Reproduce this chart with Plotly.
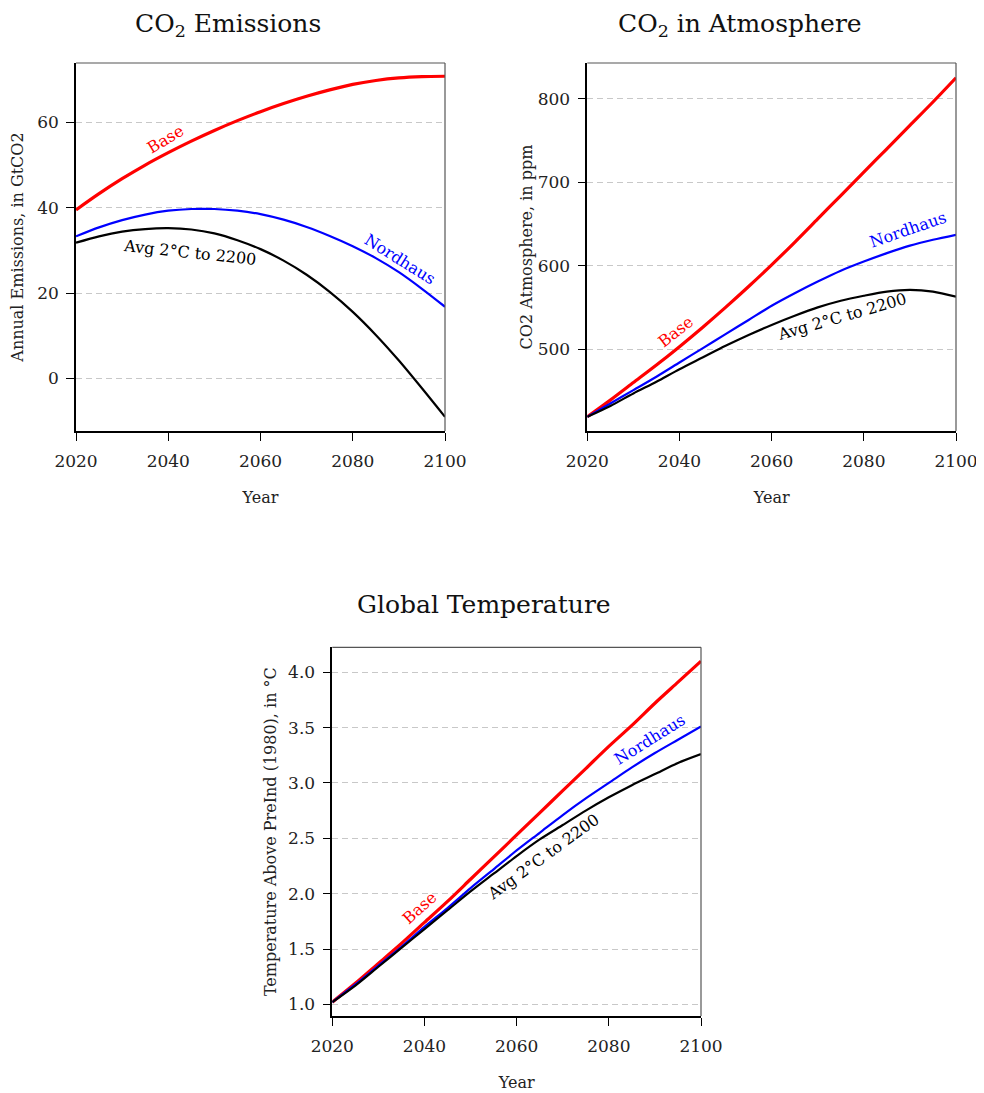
import plotly.graph_objects as go

years = [2020, 2025, 2030, 2035, 2040, 2045, 2050, 2055, 2060, 2065, 2070, 2075, 2080, 2085, 2090, 2095, 2100]

emis_base = [39.5, 43.3, 46.8, 50.0, 52.9, 55.6, 58.1, 60.4, 62.5, 64.4, 66.1, 67.6, 68.9, 69.8, 70.4, 70.7, 70.8]
emis_nord = [33.3, 35.4, 37.1, 38.4, 39.3, 39.7, 39.7, 39.3, 38.5, 37.2, 35.5, 33.4, 31.0, 28.2, 24.9, 21.0, 16.8]
emis_avg2 = [31.8, 33.3, 34.4, 35.0, 35.2, 34.9, 34.0, 32.4, 30.3, 27.6, 24.3, 20.3, 15.6, 10.2, 4.2, -2.3, -9.0]

atm_base = [419, 439, 460, 481, 503, 526, 550, 575, 601, 628, 656, 684, 712, 740, 768, 796, 825]
atm_nord = [419, 435, 451, 467, 484, 501, 518, 535, 552, 567, 581, 594, 605, 615, 624, 631, 637]
atm_avg2 = [419, 432, 447, 461, 476, 490, 504, 517, 529, 540, 550, 558, 564, 569, 571, 569, 563]

temp_base = [1.02, 1.19, 1.37, 1.55, 1.74, 1.93, 2.13, 2.33, 2.53, 2.73, 2.93, 3.13, 3.33, 3.52, 3.72, 3.91, 4.10]
temp_nord = [1.02, 1.18, 1.35, 1.52, 1.70, 1.87, 2.05, 2.22, 2.39, 2.55, 2.71, 2.86, 3.00, 3.14, 3.27, 3.39, 3.51]
temp_avg2 = [1.02, 1.17, 1.34, 1.51, 1.68, 1.85, 2.02, 2.18, 2.34, 2.49, 2.62, 2.75, 2.87, 2.98, 3.08, 3.18, 3.26]

series_names = ["Base", "Nordhaus", "Avg 2°C to 2200"]
colors = ["#ff0000", "#0000ff", "#000000"]
widths = [3.2, 2.2, 2.2]

x_ticks = [2020, 2040, 2060, 2080, 2100]
emis_ticks = [0, 20, 40, 60]
atm_ticks = [500, 600, 700, 800]
temp_ticks = [1.0, 1.5, 2.0, 2.5, 3.0, 3.5, 4.0]

FONT = "DejaVu Serif"
W, H = 984, 1093
OFF = 8  # page body margin


def px_x(p):
    return (p - OFF) / W


def px_y(p):
    return 1 - (p - OFF) / H


fig = go.Figure()

panels = [
    ("x", "y", [emis_base, emis_nord, emis_avg2]),
    ("x2", "y2", [atm_base, atm_nord, atm_avg2]),
    ("x3", "y3", [temp_base, temp_nord, temp_avg2]),
]
for xa, ya, data in panels:
    for name, vals, c, w in zip(series_names, data, colors, widths):
        fig.add_trace(go.Scatter(x=years, y=vals, mode="lines", name=name,
                                 line=dict(color=c, width=w, shape="spline", smoothing=0.8),
                                 xaxis=xa, yaxis=ya, showlegend=False, hoverinfo="skip"))


def xaxis(domain, anchor):
    return dict(domain=domain, anchor=anchor, range=[2020, 2100], tickvals=x_ticks,
                showline=True, linecolor="black", linewidth=1.5, ticks="outside", ticklen=8,
                tickcolor="black", tickwidth=1.2, showgrid=False, zeroline=False,
                ticklabelstandoff=6, automargin=False,
                tickfont=dict(family=FONT, size=17, color="#222"),
                title=dict(text="Year", font=dict(family=FONT, size=16, color="#222"), standoff=22))


def yaxis(domain, anchor, rng, ticks, title, fmt=None, standoff=10):
    d = dict(domain=domain, anchor=anchor, range=rng, tickvals=ticks,
             showline=True, linecolor="black", linewidth=1.5, ticks="outside", ticklen=8,
             tickcolor="black", tickwidth=1.2, showgrid=True, gridcolor="#c8c8c8",
             griddash="6px,4px", gridwidth=1, zeroline=False, ticklabelstandoff=4,
             automargin=False,
             tickfont=dict(family=FONT, size=17, color="#222"),
             title=dict(text=title, font=dict(family=FONT, size=16, color="#222"), standoff=standoff))
    if fmt:
        d["tickformat"] = fmt
    return d


yd_top = [px_y(431), px_y(63)]
yd_bot = [px_y(1016), px_y(647.3)]

fig.update_layout(
    width=W, height=H,
    margin=dict(l=0, r=0, t=0, b=0, autoexpand=False),
    paper_bgcolor="white", plot_bgcolor="white",
    xaxis=xaxis([px_x(76), px_x(445)], "y"),
    yaxis=yaxis(yd_top, "x", [-12.3, 73.9], emis_ticks, "Annual Emissions, in GtCO2", standoff=12),
    xaxis2=xaxis([px_x(587.3), px_x(956)], "y2"),
    yaxis2=yaxis(yd_top, "x2", [402.0, 842.7], atm_ticks, "CO2 Atmosphere, in ppm", standoff=1),
    xaxis3=xaxis([px_x(332.3), px_x(701)], "y3"),
    yaxis3=yaxis(yd_bot, "x3", [0.895, 4.225], temp_ticks, "Temperature Above PreInd (1980), in °C", fmt=".1f", standoff=7),
)

# top/right frame lines (grey)
for xa, ya in [("x", "y"), ("x2", "y2"), ("x3", "y3")]:
    fig.add_shape(type="line", xref=f"{xa} domain", yref=f"{ya} domain", x0=0, x1=1, y0=1, y1=1,
                  line=dict(color="#555555", width=1.2))
    fig.add_shape(type="line", xref=f"{xa} domain", yref=f"{ya} domain", x0=1, x1=1, y0=0, y1=1,
                  line=dict(color="#555555", width=1.2))

# titles
titles = [("CO<sub>2</sub> Emissions", 228, None),
          ("CO<sub>2</sub> in Atmosphere", 740, None),
          ("Global Temperature", 484, 605)]
for t, x, y in titles:
    if y is None:
        fig.add_annotation(text=t, x=px_x(x), y=1.0, xref="paper", yref="paper", showarrow=False,
                           xanchor="center", yanchor="top", borderpad=0,
                           font=dict(family=FONT, size=25, color="#111"))
    else:
        fig.add_annotation(text=t, x=px_x(x), y=px_y(y), xref="paper", yref="paper", showarrow=False,
                           xanchor="center", yanchor="middle",
                           font=dict(family=FONT, size=25, color="#111"))

# series labels
labels = [
    ("x", "y", "Base", 2039.3, 56.0, -31, colors[0]),
    ("x", "y", "Avg 2°C to 2200", 2044.7, 29.5, 6, colors[2]),
    ("x", "y", "Nordhaus", 2090.3, 27.9, 32, colors[1]),
    ("x2", "y2", "Base", 2039.2, 521.5, -38, colors[0]),
    ("x2", "y2", "Nordhaus", 2089.6, 643, -19, colors[1]),
    ("x2", "y2", "Avg 2°C to 2200", 2075.3, 539.4, -16, colors[2]),
    ("x3", "y3", "Base", 2039.0, 1.874, -42, colors[0]),
    ("x3", "y3", "Nordhaus", 2088.9, 3.39, -32, colors[1]),
    ("x3", "y3", "Avg 2°C to 2200", 2065.8, 2.34, -36, colors[2]),
]
for xa, ya, t, x, y, ang, c in labels:
    fig.add_annotation(text=t, x=x, y=y, xref=xa, yref=ya, showarrow=False, textangle=ang,
                       xanchor="center", yanchor="middle",
                       font=dict(family=FONT, size=16, color=c))

fig.write_html("out.html")
